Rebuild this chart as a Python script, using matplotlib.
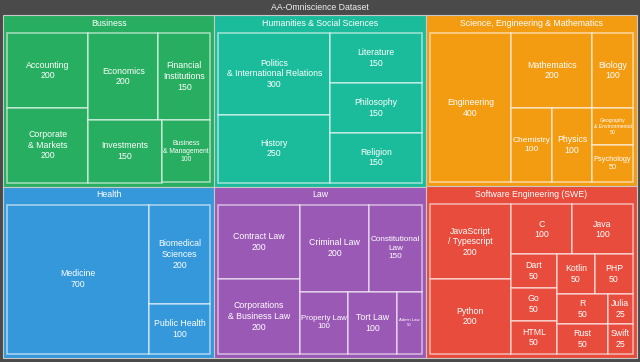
import matplotlib
matplotlib.use("Agg")
import matplotlib.pyplot as plt
from matplotlib.patches import Rectangle

# groups, in the order they are fed to the treemap
groups = ["Business", "Health", "Humanities & Social Sciences", "Law",
          "Science, Engineering & Mathematics", "Software Engineering (SWE)"]
group_colors = ["#27ae60", "#3498db", "#1abc9c", "#9b59b6", "#f39c12", "#e74c3c"]

business_labels = ["Accounting", "Corporate\n& Markets", "Economics", "Financial\nInstitutions",
                   "Investments", "Business\n& Management"]
business_values = [200, 200, 200, 150, 150, 100]

health_labels = ["Medicine", "Biomedical\nSciences", "Public Health"]
health_values = [700, 200, 100]

humanities_labels = ["Politics\n& International Relations", "History", "Literature",
                     "Philosophy", "Religion"]
humanities_values = [300, 250, 150, 150, 150]

law_labels = ["Contract Law", "Corporations\n& Business Law", "Criminal Law",
              "Constitutional\nLaw", "Property Law", "Tort Law", "Admin Law"]
law_values = [200, 200, 200, 150, 100, 100, 50]

science_labels = ["Engineering", "Mathematics", "Biology", "Chemistry", "Physics",
                  "Geography\n& Environmental", "Psychology"]
science_values = [400, 200, 100, 100, 100, 50, 50]

swe_labels = ["JavaScript\n/ Typescript", "Python", "C", "Java", "Dart", "Go", "HTML",
              "Kotlin", "PHP", "R", "Rust", "Julia", "Swift"]
swe_values = [200, 200, 100, 100, 50, 50, 50, 50, 50, 50, 50, 25, 25]

children = {
    groups[0]: (business_labels, business_values),
    groups[1]: (health_labels, health_values),
    groups[2]: (humanities_labels, humanities_values),
    groups[3]: (law_labels, law_values),
    groups[4]: (science_labels, science_values),
    groups[5]: (swe_labels, swe_values),
}


# squarified treemap layout (y grows downward)
def layout(sizes, x, y, dx, dy):
    covered = sum(sizes)
    rects = []
    if dx >= dy:
        width = covered / dy
        for s in sizes:
            rects.append((x, y, width, s / width))
            y += s / width
    else:
        height = covered / dx
        for s in sizes:
            rects.append((x, y, s / height, height))
            x += s / height
    return rects


def leftover(sizes, x, y, dx, dy):
    covered = sum(sizes)
    if dx >= dy:
        width = covered / dy
        return x + width, y, dx - width, dy
    height = covered / dx
    return x, y + height, dx, dy - height


def worst_ratio(sizes, x, y, dx, dy):
    return max(max(r[2] / r[3], r[3] / r[2]) for r in layout(sizes, x, y, dx, dy))


def squarify(sizes, x, y, dx, dy):
    if len(sizes) == 0:
        return []
    if len(sizes) == 1:
        return layout(sizes, x, y, dx, dy)
    i = 1
    while i < len(sizes) and worst_ratio(sizes[:i], x, y, dx, dy) >= worst_ratio(sizes[:i + 1], x, y, dx, dy):
        i += 1
    lx, ly, ldx, ldy = leftover(sizes[:i], x, y, dx, dy)
    return layout(sizes[:i], x, y, dx, dy) + squarify(sizes[i:], lx, ly, ldx, ldy)


def treemap(values, x, y, dx, dy):
    total = float(sum(values))
    sizes = [v * dx * dy / total for v in values]
    return squarify(sizes, x, y, dx, dy)


W, H = 640, 362
fig = plt.figure(figsize=(W / 100, H / 100), dpi=100)
fig.patch.set_facecolor("#4a4a4a")
ax = fig.add_axes([0, 0, 1, 1])
ax.set_xlim(0, W)
ax.set_ylim(H, 0)
ax.axis("off")
renderer = fig.canvas.get_renderer()

FONT = "Liberation Sans"
FS = 6.3


def fit_text(txt, w, h):
    bb = txt.get_window_extent(renderer=renderer)
    scale = min(1.0, (w - 3) / bb.width, (h - 3) / bb.height)
    if scale < 1.0:
        txt.set_fontsize(txt.get_fontsize() * scale)


ax.text(W / 2, 7, "AA-Omniscience Dataset", color="#f0f0f0", fontsize=FS,
        family=FONT, ha="center", va="center")

group_totals = [sum(children[g][1]) for g in groups]
group_rects = treemap(group_totals, 3, 15, 634, 343)

for g, color, (gx, gy, gw, gh) in zip(groups, group_colors, group_rects):
    ax.add_patch(Rectangle((gx, gy), gw, gh, facecolor=color, edgecolor="#c8c8c8", lw=0.8))
    ax.text(gx + gw / 2, gy + 8.3, g, color="white", fontsize=FS, family=FONT,
            ha="center", va="center")
    labels, values = children[g]
    inner = treemap(values, gx + 4, gy + 18, gw - 8, gh - 22)
    for lab, val, (x, y, w, h) in zip(labels, values, inner):
        ax.add_patch(Rectangle((x, y), w, h, facecolor=color,
                               edgecolor=(1, 1, 1, 0.6), lw=1.1))
        t = ax.text(x + w / 2, y + h / 2, f"{lab}\n{val}", color="white", fontsize=FS,
                    family=FONT, ha="center", va="center", linespacing=1.25)
        fit_text(t, w, h)

fig.savefig("out.png", dpi=100, facecolor=fig.get_facecolor())
